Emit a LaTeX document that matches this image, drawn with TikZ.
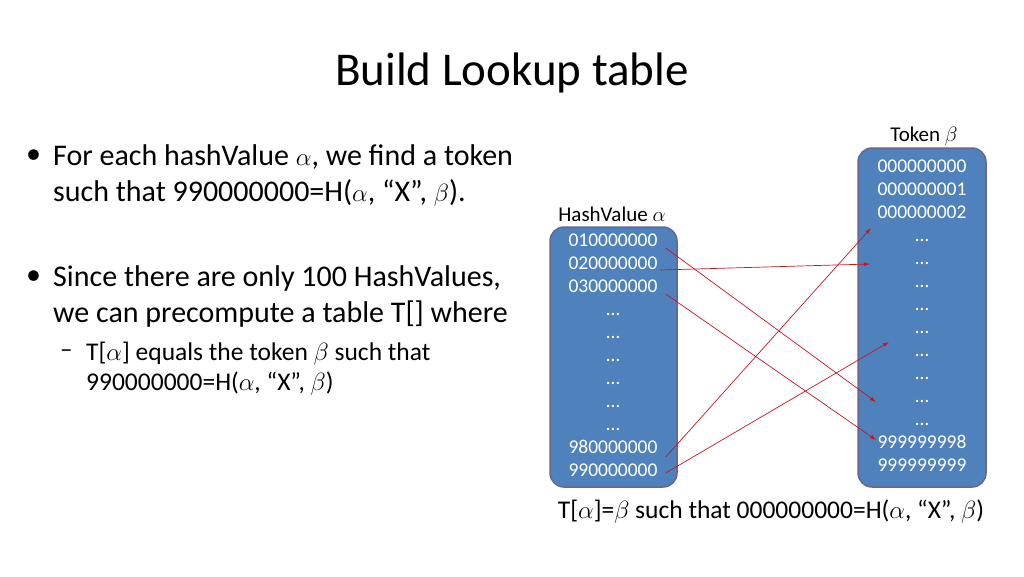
\documentclass[tikz,border=0pt]{standalone}
\usepackage{fontspec}
\setmainfont{Carlito}
\usetikzlibrary{arrows.meta}
\begin{document}
\begin{tikzpicture}[x=1pt,y=-1pt,
  col/.style={draw=blue!30!black!60, line width=1.5pt, fill={rgb,255:red,79;green,129;blue,189}, rounded corners=14pt},
  num/.style={text=white, font=\fontsize{19.5}{19.5}\selectfont, inner sep=0pt, text height=9pt, text depth=0pt},
  lab/.style={font=\fontsize{21}{21}\selectfont, inner sep=0pt},
  body/.style={font=\fontsize{30}{36}\selectfont, anchor=west, inner sep=0pt, align=left},
  arr/.style={draw={rgb,255:red,200;green,20;blue,30}, line width=0.7pt, -{Latex[length=6pt,width=4pt]}}]
\useasboundingbox (0,0) rectangle (1024,576);
\node[font=\fontsize{47}{47}\selectfont] (title) at (512,73) {Build Lookup table};
\node[body] (b1) at (26,157) {•};
\node[body] (t1) at (53,175) {For each hashValue $\alpha$, we find a token\\such that 990000000=H($\alpha$, “X”, $\beta$).};
\node[body] (b2) at (26,278) {•};
\node[body] (t2) at (53,296) {Since there are only 100 HashValues,\\we can precompute a table T[] where};
\node[body, font=\fontsize{25}{30}\selectfont] (d) at (60,354) {–};
\node[body, font=\fontsize{25.5}{30}\selectfont] (t3) at (86,369) {T[$\alpha$] equals the token $\beta$ such that\\990000000=H($\alpha$, “X”, $\beta$)};
\draw[col] (550,227) rectangle (677,487);
\draw[col] (858,148) rectangle (986,487);
\node[lab] (hl) at (612,214) {HashValue $\alpha$};
\node[lab] (tl) at (924,136) {Token $\beta$};
\foreach \t [count=\i] in {010000000,020000000,030000000,…,…,…,…,…,…,980000000,990000000}
  \node[num] (L\i) at (613,{242+23*(\i-1)}) {\t};
\foreach \t [count=\i] in {000000000,000000001,000000002,…,…,…,…,…,…,…,…,…,999999998,999999999}
  \node[num] (R\i) at (922,{168+23*(\i-1)}) {\t};
\coordinate (e1) at (876,402);
\coordinate (e2) at (870,264);
\coordinate (e3) at (876,440);
\coordinate (e4) at (871,228);
\coordinate (e5) at (889,342);
\draw[arr] (L1.east)++(8,6) -- (e1);
\draw[arr] (L2.east)++(3,5) -- (e2);
\draw[arr] (L3.east)++(8,6) -- (e3);
\draw[arr] (L10.east)++(8,8) -- (e4);
\draw[arr] (L11.east)++(8,1) -- (e5);
\node[font=\fontsize{25.5}{25.5}\selectfont, inner sep=0pt] (cap) at (771,512) {T[$\alpha$]=$\beta$ such that 000000000=H($\alpha$, “X”, $\beta$)};
\end{tikzpicture}
\end{document}
